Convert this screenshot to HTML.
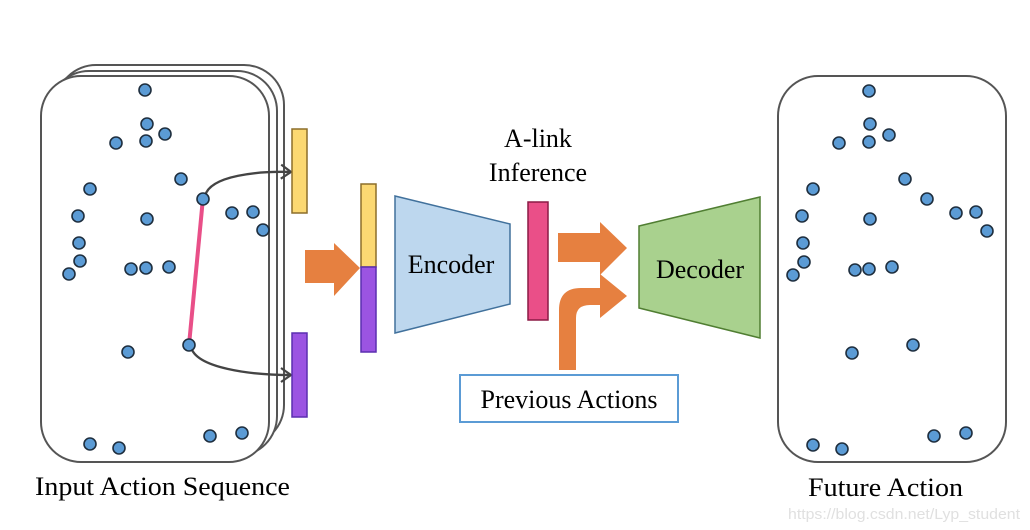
<!DOCTYPE html>
<html><head><meta charset="utf-8"><style>
html,body{margin:0;padding:0;background:#fff;}
svg{display:block;}
text{font-family:"Liberation Serif",serif;fill:#000;}
</style></head><body>
<svg width="1030" height="530" viewBox="0 0 1030 530" xmlns="http://www.w3.org/2000/svg">
<defs>
<marker id="ah" markerWidth="16" markerHeight="16" refX="12" refY="8" orient="auto" markerUnits="userSpaceOnUse">
<path d="M2,1 L12,8 L2,15" fill="none" stroke="#444" stroke-width="2.2"/>
</marker>
</defs>
<rect x="56" y="65" width="228" height="380" rx="40" fill="#fff" stroke="#555" stroke-width="2"/>
<rect x="49" y="71" width="228" height="385" rx="40" fill="#fff" stroke="#555" stroke-width="2"/>
<rect x="41" y="76" width="228" height="386" rx="40" fill="#fff" stroke="#555" stroke-width="2"/>
<line x1="203" y1="198" x2="189" y2="345" stroke="#e94f88" stroke-width="4"/>
<path d="M205,196 C210,175 260,171 291,172" fill="none" stroke="#444" stroke-width="2.4" marker-end="url(#ah)"/>
<path d="M191,347 C196,368 250,375 291,375" fill="none" stroke="#444" stroke-width="2.4" marker-end="url(#ah)"/>
<g fill="#5b9bd5" stroke="#1f2f3f" stroke-width="1.6">
<circle cx="145" cy="90" r="6"/><circle cx="147" cy="124" r="6"/><circle cx="165" cy="134" r="6"/><circle cx="116" cy="143" r="6"/><circle cx="146" cy="141" r="6"/><circle cx="181" cy="179" r="6"/><circle cx="90" cy="189" r="6"/><circle cx="203" cy="199" r="6"/><circle cx="78" cy="216" r="6"/><circle cx="147" cy="219" r="6"/><circle cx="232" cy="213" r="6"/><circle cx="253" cy="212" r="6"/><circle cx="263" cy="230" r="6"/><circle cx="79" cy="243" r="6"/><circle cx="80" cy="261" r="6"/><circle cx="69" cy="274" r="6"/><circle cx="131" cy="269" r="6"/><circle cx="146" cy="268" r="6"/><circle cx="169" cy="267" r="6"/><circle cx="128" cy="352" r="6"/><circle cx="189" cy="345" r="6"/><circle cx="90" cy="444" r="6"/><circle cx="119" cy="448" r="6"/><circle cx="210" cy="436" r="6"/><circle cx="242" cy="433" r="6"/>
</g>
<rect x="292" y="129" width="15" height="84" fill="#fbd872" stroke="#8c6e2a" stroke-width="1.5"/>
<rect x="292" y="333" width="15" height="84" fill="#9b54e2" stroke="#5b2fb0" stroke-width="1.5"/>
<polygon points="305,250 334,250 334,243 360,268 334,296 334,283 305,283" fill="#e68040"/>
<rect x="361" y="184" width="15" height="83" fill="#fbd872" stroke="#8c6e2a" stroke-width="1.5"/>
<rect x="361" y="267" width="15" height="85" fill="#9b54e2" stroke="#5b2fb0" stroke-width="1.5"/>
<polygon points="395,196 510,224 510,304 395,333" fill="#bdd7ee" stroke="#41719c" stroke-width="1.5"/>
<text x="451" y="273" font-size="26" text-anchor="middle">Encoder</text>
<text x="538" y="147" font-size="26" text-anchor="middle">A-link</text>
<text x="538" y="181" font-size="26" text-anchor="middle">Inference</text>
<rect x="528" y="202" width="20" height="118" fill="#ea4f88" stroke="#8b1a45" stroke-width="1.5"/>
<polygon points="558,233 600,233 600,222 627,248 600,275 600,262 558,262" fill="#e68040"/>
<path d="M559,370 L559,310 Q559,288 581,288 L600,288 L600,274 L627,296 L600,318 L600,305 L590,305 Q576,305 576,318 L576,370 Z" fill="#e68040"/>
<rect x="460" y="375" width="218" height="47" fill="#fff" stroke="#5b9bd5" stroke-width="2"/>
<text x="569" y="408" font-size="26" text-anchor="middle">Previous Actions</text>
<polygon points="639,226 760,197 760,338 639,308" fill="#a9d18e" stroke="#507e32" stroke-width="1.5"/>
<text x="700" y="278" font-size="26" text-anchor="middle">Decoder</text>
<rect x="778" y="76" width="228" height="386" rx="40" fill="#fff" stroke="#555" stroke-width="2"/>
<g fill="#5b9bd5" stroke="#1f2f3f" stroke-width="1.6">
<circle cx="869" cy="91" r="6"/><circle cx="870" cy="124" r="6"/><circle cx="889" cy="135" r="6"/><circle cx="839" cy="143" r="6"/><circle cx="869" cy="142" r="6"/><circle cx="905" cy="179" r="6"/><circle cx="813" cy="189" r="6"/><circle cx="927" cy="199" r="6"/><circle cx="802" cy="216" r="6"/><circle cx="870" cy="219" r="6"/><circle cx="956" cy="213" r="6"/><circle cx="976" cy="212" r="6"/><circle cx="987" cy="231" r="6"/><circle cx="803" cy="243" r="6"/><circle cx="804" cy="262" r="6"/><circle cx="793" cy="275" r="6"/><circle cx="855" cy="270" r="6"/><circle cx="869" cy="269" r="6"/><circle cx="892" cy="267" r="6"/><circle cx="852" cy="353" r="6"/><circle cx="913" cy="345" r="6"/><circle cx="813" cy="445" r="6"/><circle cx="842" cy="449" r="6"/><circle cx="934" cy="436" r="6"/><circle cx="966" cy="433" r="6"/>
</g>
<text x="35" y="495" font-size="26" textLength="255" lengthAdjust="spacingAndGlyphs">Input Action Sequence</text>
<text x="808" y="496" font-size="26" textLength="155" lengthAdjust="spacingAndGlyphs">Future Action</text>
<text x="788" y="519" font-size="15" style="font-family:'Liberation Sans',sans-serif;fill:#e0e0e0" textLength="232" lengthAdjust="spacingAndGlyphs">https://blog.csdn.net/Lyp_student</text>
</svg>
</body></html>
